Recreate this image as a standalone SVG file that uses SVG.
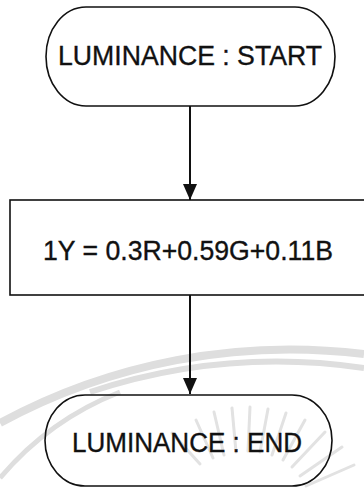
<svg xmlns="http://www.w3.org/2000/svg" width="364" height="497" viewBox="0 0 364 497">
  <style>
    .shape { fill: none; stroke: #111; stroke-width: 1.6; }
    .label { font-family: "Liberation Sans", Arial, sans-serif; font-size: 27px; fill: #111; stroke: #111; stroke-width: 0.35; text-anchor: middle; }
    .wire { stroke: #111; stroke-width: 2; fill: none; }
    .head { fill: #111; }
    .mark { fill: none; stroke: #dedede; }
  </style>
  <defs>
    <!-- arrowhead drawn along +x so orient="auto" points it down the wire -->
    <marker id="arrow" viewBox="0 0 16 14" refX="16" refY="7" markerWidth="16" markerHeight="14" markerUnits="userSpaceOnUse" orient="auto">
      <polygon class="head" points="0,0 16,7 0,14"/>
    </marker>
  </defs>
  <rect width="364" height="497" fill="#fff"/>

  <!-- faint background emblem: arcs and sun rays -->
  <g id="emblem">
    <path class="mark" stroke-width="8" d="M0,423 A608,608 0 0 1 364,354"/>
    <path class="mark" stroke-width="6" d="M90,392 A594,594 0 0 1 364,368"/>
    <path class="mark" stroke-width="5" d="M0,478 A300,300 0 0 1 120,392"/>
    <g stroke="#e2e2e2" stroke-width="3" stroke-linecap="round">
      <line x1="213" y1="458" x2="196" y2="420"/>
      <line x1="224" y1="455" x2="214" y2="412"/>
      <line x1="236" y1="452" x2="232" y2="408"/>
      <line x1="248" y1="451" x2="250" y2="407"/>
      <line x1="260" y1="452" x2="268" y2="409"/>
      <line x1="272" y1="455" x2="286" y2="413"/>
      <line x1="283" y1="460" x2="305" y2="420"/>
      <line x1="292" y1="467" x2="325" y2="432"/>
      <line x1="300" y1="476" x2="342" y2="447"/>
      <line x1="306" y1="486" x2="354" y2="465"/>
      <line x1="200" y1="464" x2="172" y2="433"/>
    </g>
  </g>

  <g id="connectors">
    <line class="wire" x1="190" y1="106" x2="190" y2="200" marker-end="url(#arrow)"/>
    <line class="wire" x1="190" y1="295" x2="190" y2="394" marker-end="url(#arrow)"/>
  </g>

  <g id="start">
    <rect class="shape" x="46" y="7" width="289" height="99" rx="40" ry="49.5"/>
    <text class="label" x="190" y="65" textLength="264" lengthAdjust="spacingAndGlyphs">LUMINANCE : START</text>
  </g>

  <g id="compute">
    <rect class="shape" x="10" y="200" width="365" height="95"/>
    <text class="label" x="188" y="260" textLength="290" lengthAdjust="spacingAndGlyphs">1Y = 0.3R+0.59G+0.11B</text>
  </g>

  <g id="end">
    <rect class="shape" x="45" y="395" width="287" height="91" rx="40" ry="45.5"/>
    <text class="label" x="187" y="452" textLength="230" lengthAdjust="spacingAndGlyphs">LUMINANCE : END</text>
  </g>
</svg>
